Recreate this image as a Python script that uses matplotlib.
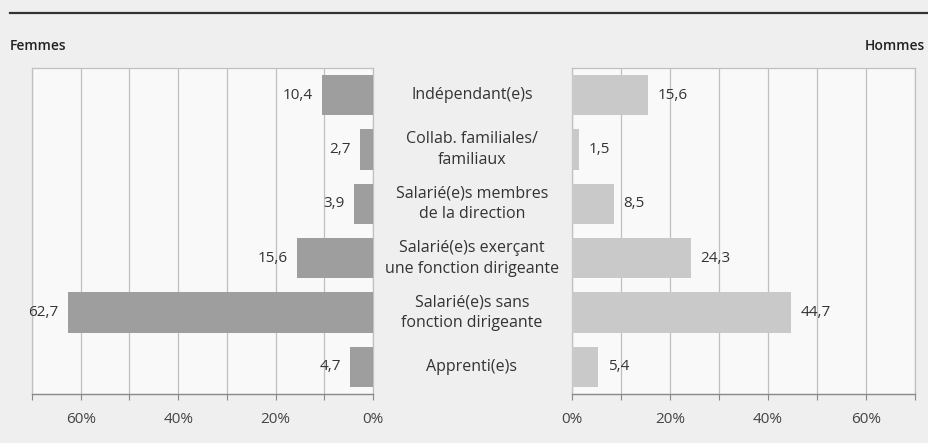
import matplotlib.pyplot as plt
import matplotlib.transforms as mtransforms
from matplotlib.lines import Line2D

plt.rcParams['font.family'] = ['Open Sans', 'DejaVu Sans']

categories = ["Indépendant(e)s", "Collab. familiales/\nfamiliaux", "Salarié(e)s membres\nde la direction",
              "Salarié(e)s exerçant\nune fonction dirigeante", "Salarié(e)s sans\nfonction dirigeante",
              "Apprenti(e)s"]
femmes = [10.4, 2.7, 3.9, 15.6, 62.7, 4.7]
hommes = [15.6, 1.5, 8.5, 24.3, 44.7, 5.4]
ticks = [0, 10, 20, 30, 40, 50, 60, 70]
ticklabels = ["0%", "", "20%", "", "40%", "", "60%", ""]

W, H = 929, 443
fig = plt.figure(figsize=(W / 100, H / 100), dpi=100, facecolor="#efefef")

bottom = 1 - 394 / H
height = (394 - 68) / H
axL = fig.add_axes([32 / W, bottom, (373 - 32) / W, height])
axR = fig.add_axes([572 / W, bottom, (915 - 572) / W, height])

ypos = list(range(len(categories)))
txt = "#333333"

for ax, vals, col in [(axL, femmes, "#9e9e9e"), (axR, hommes, "#c9c9c9")]:
    ax.set_facecolor("#f9f9f9")
    ax.barh(ypos, vals, height=0.74, color=col, zorder=3)
    ax.set_xlim(0, 70)
    ax.set_ylim(len(categories) - 0.5, -0.5)
    ax.set_xticks(ticks)
    ax.set_xticklabels(ticklabels, fontsize=11, color="#444444")
    ax.set_yticks([])
    ax.grid(axis="x", color="#c0c0c0", linewidth=0.9, zorder=0)
    ax.tick_params(axis="x", length=4, color="#888888", pad=9)
    for s in ["top", "left", "right"]:
        ax.spines[s].set_color("#c0c0c0")
        ax.spines[s].set_linewidth(0.9)
    ax.spines["bottom"].set_color("#888888")
    ax.spines["bottom"].set_linewidth(1.0)

axL.invert_xaxis()

for y, v in zip(ypos, femmes):
    axL.text(v + 1.9, y, f"{v:.1f}".replace(".", ","), ha="right", va="center",
             fontsize=11, color=txt)
for y, v in zip(ypos, hommes):
    axR.text(v + 1.9, y, f"{v:.1f}".replace(".", ","), ha="left", va="center",
             fontsize=11, color=txt)

trans = mtransforms.blended_transform_factory(fig.transFigure, axL.transData)
for y, c in zip(ypos, categories):
    fig.text(472 / W, y, c, transform=trans, ha="center", va="center",
             fontsize=11.5, color=txt, linespacing=1.4)

fig.text(10 / W, 1 - 46 / H, "Femmes", ha="left", va="center", fontsize=10,
         fontweight="semibold", color="#222222")
fig.text(925 / W, 1 - 46 / H, "Hommes", ha="right", va="center", fontsize=10,
         fontweight="semibold", color="#222222")

fig.add_artist(Line2D([10 / W, 1], [1 - 13 / H, 1 - 13 / H], transform=fig.transFigure,
                      color="#333333", linewidth=1.6))

fig.savefig("out.png", dpi=100, facecolor=fig.get_facecolor())
